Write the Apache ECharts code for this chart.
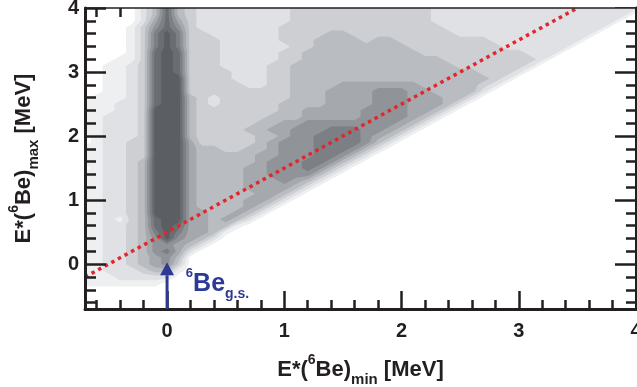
<!DOCTYPE html>
<html>
<head>
<meta charset="utf-8">
<script src="https://cdn.jsdelivr.net/npm/echarts@6/dist/echarts.min.js"></script>
<style>
  html, body { margin: 0; padding: 0; background: #ffffff; }
  #chart { width: 637px; height: 387px; }
</style>
</head>
<body>
<div id="chart"></div>
<script>
// Axis ranges (MeV)
const X_MIN = -0.7, X_MAX = 4.0;
const Y_MIN = -0.7, Y_MAX = 4.0;

// Density map: contour level at each node of a 0.1 MeV grid.
// One string per row, from E_max = 4.0 (top) down to E_max = -0.7 (bottom);
// characters run from E_min = -0.7 to 4.0. Spaces only group the digits,
// missing trailing nodes are empty (level 0).
const GRID_X0 = -0.7, GRID_Y0 = -0.7, GRID_STEP = 0.1, GRID_N = 48;
const levelRows = [
  "00000248432 2222222 333333333333 222222222222222222", // 4.0
  "00000248432 2222222 333333333333 22222222222222222",  // 3.9
  "00000258532 2222222 333333333333 2222222222222222",   // 3.8
  "00001368632 2222223 333333333333 3 22222222222222",   // 3.7
  "00001379733 2222223 333443333333 33 222222222222",    // 3.6
  "00001379733 3222223 334444344333 33333 22222222",     // 3.5
  "00001379733 3222222 334444444433 333333 222222",      // 3.4
  "00001389833 3222223 344444444443 33333333 222",       // 3.3
  "00011389833 3222223 344444444444 43333333 32",        // 3.2
  "00112389833 3222233 444444444444 44333333 2",         // 3.1
  "00112389833 3322233 444444444444 4444333 2",          // 3.0
  "00112389933 3322233 444444444444 444443 2",           // 2.9
  "00112389933 3332233 444455555554 44443 2",            // 2.8
  "00112389933 3333333 444555566655 4444 2",             // 2.7
  "01112389943 2333333 444555566655 544 2",              // 2.6
  "11122389943 2333334 444555566655 54 2",               // 2.5
  "11122399943 3333334 455555666655 4 2",                // 2.4
  "11222399943 3333344 455555666654 2",                  // 2.3
  "11222399943 3333445 566666666542",                    // 2.2
  "11222399943 3334455 66677766542",                     // 2.1
  "01222399943 3333445 6677776542",                      // 2.0
  "01223399953 3333456 667777642",                       // 1.9
  "11223399954 4334456 66777642",                        // 1.8
  "11223399954 4444556 6677642",                         // 1.7
  "11223499954 4444566 677642",                          // 1.6
  "01223499954 4445566 67642",                           // 1.5
  "11223499954 4445566 6642",                            // 1.4
  "11223499954 4445556 542",                             // 1.3
  "11223499954 4445555 42",                              // 1.2
  "11223499954 4444554 2",                               // 1.1
  "11223499954 4445542",                                 // 1.0
  "11223499954 444542",                                  // 0.9
  "11223499955 44542",                                   // 0.8
  "11213489955 4542",                                    // 0.7
  "11223489855 441",                                     // 0.6
  "11223479755 41",                                      // 0.5
  "11223469654 2",                                       // 0.4
  "11223466542",                                         // 0.3
  "1122346752",                                          // 0.2
  "112234564",                                           // 0.1
  "112234563",                                           // 0.0
  "112223441",                                           // -0.1
  "11122222",                                            // -0.2
  "1111111",                                             // -0.3
  "",                                                    // -0.4
  "",                                                    // -0.5
  "",                                                    // -0.6
  ""                                                     // -0.7
];

// Fill colour of each contour band, level 1 (lightest) to 9 (darkest)
const levelColors = ['#eeeff0', '#e0e1e4', '#cdcfd2', '#b9bcc0', '#a5a8ac',
                     '#909398', '#7c8085', '#6a6e73', '#5b5f64'];
const levelIds = [1, 2, 3, 4, 5, 6, 7, 8, 9];

// Tick labels
const majorTicks = [0, 1, 2, 3, 4];
const minorTicks = [-0.6, -0.4, -0.2, 0.2, 0.4, 0.6, 0.8, 1.2, 1.4, 1.6, 1.8,
                    2.2, 2.4, 2.6, 2.8, 3.2, 3.4, 3.6, 3.8];

// Dotted guide line E_max = E_min + 0.5
const diagLine = [[-0.7, -0.2], [3.5, 4.0]];
// Ground-state arrow: [E_min, start of shaft, tip]
const gsArrow = [0, -0.7, 0.03];
// Anchor of the ground-state label
const gsLabelAt = [0.16, -0.31];

const FONT = "'Liberation Sans', Arial, Helvetica, sans-serif";
const INK = '#231f20';
const BLUE = '#2d3a94';

// Parse rows into levels[j][i] with j counted from the bottom row
const levels = levelRows.map(function (r) {
  return r.replace(/\s/g, '').padEnd(GRID_N, '0').split('').map(Number);
}).reverse();

// Grid squares that hold any density: [x0, y0, v(bottom-left), v(bottom-right), v(top-right), v(top-left)]
const cells = [];
for (let j = 0; j < GRID_N - 1; j++) {
  for (let i = 0; i < GRID_N - 1; i++) {
    const v = [levels[j][i], levels[j][i + 1], levels[j + 1][i + 1], levels[j + 1][i]];
    if (Math.max.apply(null, v) > 0) {
      cells.push([GRID_X0 + i * GRID_STEP, GRID_Y0 + j * GRID_STEP, v[0], v[1], v[2], v[3]]);
    }
  }
}

// One filled region per contour level: the part of every grid square at or above
// the level (marching squares with linear edges), merged into a single path.
function renderLevel(params, api) {
  const L = api.value(0);
  const t = L - 0.5;
  let d = '';
  for (let n = 0; n < cells.length; n++) {
    const c = cells[n];
    if (Math.max(c[2], c[3], c[4], c[5]) < t) continue;
    const x0 = c[0], y0 = c[1], x1 = x0 + GRID_STEP, y1 = y0 + GRID_STEP;
    const corners = [[x0, y0, c[2]], [x1, y0, c[3]], [x1, y1, c[4]], [x0, y1, c[5]]];
    const pts = [];
    for (let k = 0; k < 4; k++) {
      const a = corners[k], b = corners[(k + 1) % 4];
      const aIn = a[2] >= t, bIn = b[2] >= t;
      if (aIn) pts.push(api.coord([a[0], a[1]]));
      if (aIn !== bIn) {
        const f = (t - a[2]) / (b[2] - a[2]);
        pts.push(api.coord([a[0] + f * (b[0] - a[0]), a[1] + f * (b[1] - a[1])]));
      }
    }
    if (pts.length < 3) continue;
    d += 'M' + pts.map(function (p) { return p[0].toFixed(2) + ' ' + p[1].toFixed(2); }).join('L') + 'Z';
  }
  if (!d) return null;
  return { type: 'path', shape: { pathData: d }, style: { fill: levelColors[L - 1] } };
}

function renderArrow(params, api) {
  const x = api.value(0);
  const base = api.coord([x, api.value(1)]);
  const tip = api.coord([x, api.value(2)]);
  const headH = 13, headW = 7;
  return {
    type: 'group',
    children: [
      { type: 'line',
        shape: { x1: base[0], y1: base[1], x2: tip[0], y2: tip[1] + headH },
        style: { stroke: BLUE, lineWidth: 3 } },
      { type: 'polygon',
        shape: { points: [[tip[0], tip[1]], [tip[0] - headW, tip[1] + headH], [tip[0] + headW, tip[1] + headH]] },
        style: { fill: BLUE } }
    ]
  };
}

const titleRich = {
  t:   { fontFamily: FONT, fontWeight: 'bold', fontSize: 22, color: INK, lineHeight: 34 },
  sup: { fontFamily: FONT, fontWeight: 'bold', fontSize: 14, color: INK, lineHeight: 22, verticalAlign: 'top' },
  sub: { fontFamily: FONT, fontWeight: 'bold', fontSize: 15, color: INK, lineHeight: 10, verticalAlign: 'bottom' }
};

function frameAxis(kind, position, width, z) {
  return {
    type: 'value', position: position, z: z,
    min: kind === 'x' ? X_MIN : Y_MIN, max: kind === 'x' ? X_MAX : Y_MAX,
    axisLine: { show: true, onZero: false, lineStyle: { color: INK, width: width } },
    axisTick: { show: false }, axisLabel: { show: false }, splitLine: { show: false }
  };
}

function tickAxis(kind, position, values, length, z) {
  return {
    type: 'value', position: position, z: z,
    min: kind === 'x' ? X_MIN : Y_MIN, max: kind === 'x' ? X_MAX : Y_MAX,
    axisLine: { show: false, onZero: false },
    axisTick: { show: true, inside: true, length: length, customValues: values,
                lineStyle: { color: INK, width: 2.5 } },
    axisLabel: { show: false }, splitLine: { show: false }
  };
}

const xLabelAxis = tickAxis('x', 'bottom', majorTicks, 18, 4);
xLabelAxis.axisLabel = { show: true, customValues: majorTicks, margin: 12, color: INK,
                         fontFamily: FONT, fontWeight: 'bold', fontSize: 20 };
xLabelAxis.name = '{t|E*(}{sup|6}{t|Be)}{sub|min}{t| [MeV]}';
xLabelAxis.nameLocation = 'middle';
xLabelAxis.nameGap = 44;
xLabelAxis.nameTextStyle = { rich: titleRich };

const yLabelAxis = tickAxis('y', 'left', majorTicks, 21, 4);
yLabelAxis.axisLabel = { show: true, customValues: majorTicks, margin: 6, color: INK,
                         fontFamily: FONT, fontWeight: 'bold', fontSize: 20, padding: [8, 0, 0, 0] };
yLabelAxis.name = '{t|E*(}{sup|6}{t|Be)}{sub|max}{t| [MeV]}';
yLabelAxis.nameLocation = 'middle';
yLabelAxis.nameGap = 44;
yLabelAxis.nameTextStyle = { rich: titleRich };

const chart = echarts.init(document.getElementById('chart'), null, { renderer: 'canvas' });
chart.setOption({
  animation: false,
  backgroundColor: '#ffffff',
  grid: { left: 85, right: 1, top: 8, bottom: 78, containLabel: false, outerBoundsMode: 'none' },
  xAxis: [
    xLabelAxis,
    tickAxis('x', 'bottom', minorTicks, 9, 4),
    tickAxis('x', 'top', majorTicks, 18, 0),
    tickAxis('x', 'top', minorTicks, 9, 0),
    frameAxis('x', 'bottom', 3, 5),
    frameAxis('x', 'top', 1.5, 5)
  ],
  yAxis: [
    yLabelAxis,
    tickAxis('y', 'left', minorTicks, 11, 4),
    tickAxis('y', 'right', majorTicks, 21, 0),
    tickAxis('y', 'right', minorTicks, 10, 0),
    frameAxis('y', 'left', 3, 5),
    frameAxis('y', 'right', 3, 5)
  ],
  series: [
    {
      type: 'custom', name: 'density', coordinateSystem: 'cartesian2d',
      xAxisIndex: 0, yAxisIndex: 0,
      data: levelIds.map(function (L) { return [L, 0]; }),
      encode: { x: 0, y: 1 },
      renderItem: renderLevel, clip: true, z: 2, silent: true
    },
    {
      type: 'line', name: 'guide', xAxisIndex: 0, yAxisIndex: 0,
      data: diagLine, symbol: 'none', silent: true, z: 3,
      lineStyle: { color: '#e3262b', width: 3.5, type: [3.5, 4], cap: 'butt' }
    },
    {
      type: 'custom', name: 'gs arrow', coordinateSystem: 'cartesian2d',
      xAxisIndex: 0, yAxisIndex: 0,
      data: [gsArrow], encode: { x: 0, y: [1, 2] },
      renderItem: renderArrow, clip: false, z: 6, silent: true
    },
    {
      type: 'scatter', name: 'gs label', xAxisIndex: 0, yAxisIndex: 0,
      data: [gsLabelAt], symbolSize: 0.1, silent: true, z: 6,
      itemStyle: { color: 'rgba(0,0,0,0)', opacity: 1 },
      label: {
        show: true, position: 'right', distance: 0, opacity: 1,
        formatter: '{s|6}{b|Be}{g|g.s.}',
        rich: {
          b: { fontFamily: FONT, fontWeight: 'bold', fontSize: 25, color: BLUE, lineHeight: 34 },
          s: { fontFamily: FONT, fontWeight: 'bold', fontSize: 13, color: BLUE, lineHeight: 18, verticalAlign: 'top' },
          g: { fontFamily: FONT, fontWeight: 'bold', fontSize: 14, color: BLUE, lineHeight: 16, verticalAlign: 'bottom' }
        }
      }
    }
  ]
});
</script>
</body>
</html>
